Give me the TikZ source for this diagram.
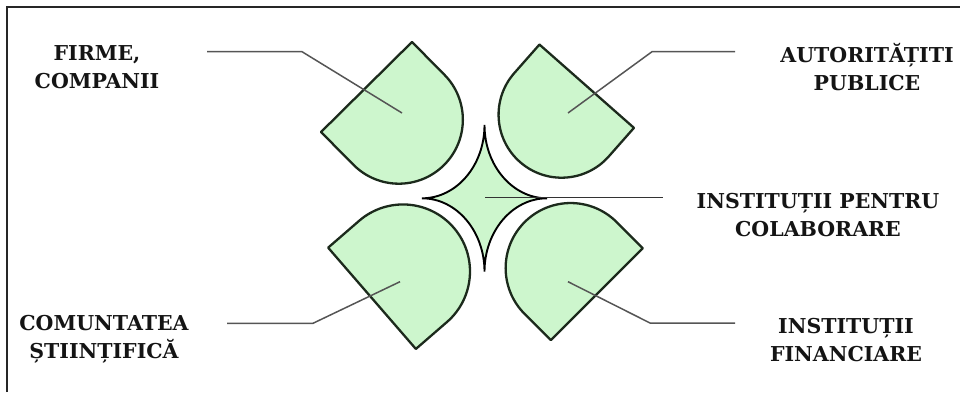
\documentclass[tikz,border=0pt]{standalone}
\usepackage{fontspec}
\setmainfont{DejaVu Serif}
\definecolor{petalgreen}{RGB}{205,246,205}
\definecolor{petalline}{RGB}{28,42,28}
\definecolor{connline}{RGB}{85,85,85}
\begin{document}
\begin{tikzpicture}[x=1pt,y=1pt,
  petalstyle/.style={draw=petalline, fill=petalgreen, line width=2.3pt, line join=round},
  starstyle/.style={draw=black, fill=petalgreen, line width=1.9pt},
  conn/.style={draw=connline, line width=1.5pt},
  midconn/.style={draw=black!80, line width=1.5pt},
  frameline/.style={draw=black!85, line width=1.8pt},
  lbl/.style={font=\bfseries\fontsize{20.5}{28}\selectfont, align=center, text=black!92, inner sep=0pt},
  pics/petal/.style n args={2}{code={
    \draw[petalstyle] (-#1,0) -- (#1,0) -- (#1,#2)
      arc[start angle=0, end angle=180, radius=#1 pt] -- cycle;
  }}]
\useasboundingbox (0,0) rectangle (960,392);
% frame
\draw[frameline] (7,0) -- (7,385) -- (960,385);
% petals
\pic[rotate=-135.3] at (366.5,305) {petal={64}{46}};
\pic[rotate=138.6] at (586.7,305.8) {petal={63}{38}};
\pic[rotate=-49.1] at (372,93.7) {petal={67}{41}};
\pic[rotate=45] at (596.8,97.8) {petal={65}{37}};
% central star
\coordinate (sc) at (484.5,193.7);
\draw[starstyle] (484.5,267)
  arc[start angle=180, end angle=270, x radius=62.5pt, y radius=73.3pt]
  arc[start angle=90, end angle=180, x radius=62.5pt, y radius=73.3pt]
  arc[start angle=0, end angle=90, x radius=62.5pt, y radius=73.3pt]
  arc[start angle=-90, end angle=0, x radius=62.5pt, y radius=73.3pt] -- cycle;
% labels
\node[lbl] (firme) at (97,325) {FIRME,\\COMPANII};
\node[lbl] (autor) at (867,324.5) {AUTORITĂȚITI\\PUBLICE};
\node[lbl] (colab) at (818,176.5) {INSTITUȚII PENTRU\\COLABORARE};
\node[lbl] (finan) at (846,52) {INSTITUȚII\\FINANCIARE};
\node[lbl] (comun) at (104,53) {COMUNTATEA\\ȘTIINȚIFICĂ};
% connector anchors
\coordinate (tlA) at (207,340.3);
\coordinate (tlK) at (302,340.3);
\coordinate (tlC) at (402,279);
\coordinate (trA) at (735,340.3);
\coordinate (trK) at (652,340.3);
\coordinate (trC) at (568,279);
\coordinate (mA) at (663,194.5);
\coordinate (mC) at (485,194.5);
\coordinate (blA) at (227,68.7);
\coordinate (blK) at (313,68.7);
\coordinate (blC) at (400,110.3);
\coordinate (brA) at (735,69);
\coordinate (brK) at (650,69);
\coordinate (brC) at (568,110.3);
% connectors
\draw[conn] (tlA) -- (tlK) -- (tlC);
\draw[conn] (trA) -- (trK) -- (trC);
\draw[midconn] (mC) -- (mA);
\draw[conn] (blA) -- (blK) -- (blC);
\draw[conn] (brA) -- (brK) -- (brC);
\end{tikzpicture}
\end{document}
